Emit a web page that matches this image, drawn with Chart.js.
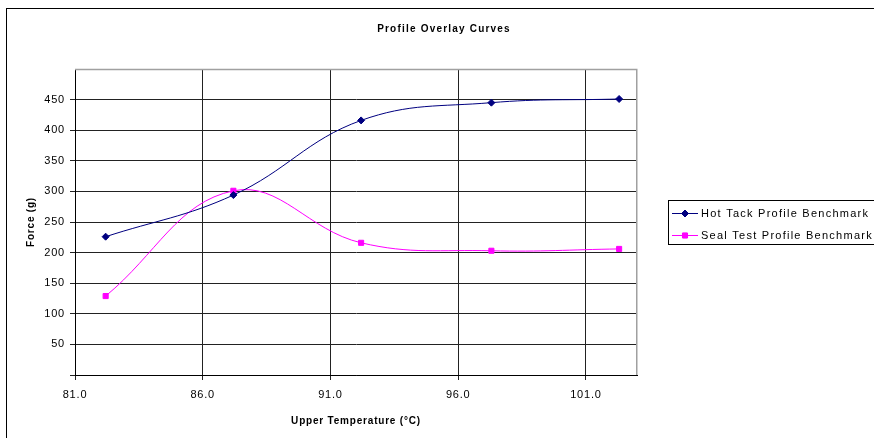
<!DOCTYPE html>
<html>
<head>
<meta charset="utf-8">
<title>Profile Overlay Curves</title>
<script src="https://cdn.jsdelivr.net/npm/chart.js@4/dist/chart.umd.min.js"></script>
<style>
    html, body { margin: 0; padding: 0; background: #fff; }
    #wrap { width: 874px; height: 438px; }
</style>
</head>
<body>
<div id="wrap"><canvas id="profileChart" width="874" height="438"></canvas></div>
<script>
// Data
const temps = [82.2, 87.2, 92.2, 97.3, 102.3];
const hotTack = [226, 294, 416, 445, 451];
const sealTest = [129, 301, 216, 203, 206];
const xTicks = [81, 86, 91, 96, 101];
const yTicks = [0, 50, 100, 150, 200, 250, 300, 350, 400, 450, 500];
const seriesNames = ['Hot Tack Profile Benchmark', 'Seal Test Profile Benchmark'];
const seriesColors = ['#000080', '#ff00ff'];
const seriesMarkers = ['rectRot', 'rect'];
const markerSizes = [3.5, 3.6];

const FONT = '"Liberation Sans", Arial, sans-serif';

function toPoints(values) {
    return temps.map((t, i) => ({ x: t, y: values[i] }));
}

// Outer frame, plot border, title and legend box
const framePlugin = {
    id: 'frame',
    beforeDraw(chart) {
        const ctx = chart.ctx;
        ctx.save();
        ctx.fillStyle = '#fff';
        ctx.fillRect(0, 0, chart.width, chart.height);
        ctx.strokeStyle = '#000';
        ctx.lineWidth = 1;
        ctx.strokeRect(6.5, 8.5, 900, 460);
        ctx.restore();
        ctx.letterSpacing = '0.8px';
    },
    afterDraw(chart) {
        const ctx = chart.ctx;
        const area = chart.chartArea;
        ctx.save();

        // plot area border (top / right)
        ctx.strokeStyle = '#a0a0a0';
        ctx.lineWidth = 1.5;
        ctx.beginPath();
        ctx.moveTo(area.left, area.top + 0.5);
        ctx.lineTo(area.right - 0.25, area.top + 0.5);
        ctx.lineTo(area.right - 0.25, area.bottom);
        ctx.stroke();

        // title
        ctx.letterSpacing = '1.2px';
        ctx.fillStyle = '#000';
        ctx.font = 'bold 10px ' + FONT;
        ctx.textAlign = 'center';
        ctx.textBaseline = 'middle';
        ctx.fillText('Profile Overlay Curves', 444, 29);

        // legend
        ctx.strokeStyle = '#000';
        ctx.lineWidth = 1;
        ctx.strokeRect(668.5, 200.5, 260, 44);
        ctx.letterSpacing = '1.25px';
        ctx.font = '11px ' + FONT;
        ctx.textAlign = 'left';
        seriesNames.forEach((name, i) => {
            const y = 213 + i * 22;
            ctx.strokeStyle = seriesColors[i];
            ctx.beginPath();
            ctx.moveTo(672, y + 0.5);
            ctx.lineTo(698, y + 0.5);
            ctx.stroke();
            Chart.helpers.drawPoint(ctx, {
                pointStyle: seriesMarkers[i],
                radius: markerSizes[i],
                borderWidth: 1,
                rotation: 0
            }, 685, y + 0.5);
            ctx.fillStyle = seriesColors[i];
            ctx.fill();
            ctx.fillStyle = '#000';
            ctx.fillText(name, 701, y + 1);
        });
        ctx.restore();
    }
};

function makeDataset(i, values) {
    return {
        label: seriesNames[i],
        data: toPoints(values),
        borderColor: seriesColors[i],
        backgroundColor: seriesColors[i],
        borderWidth: 1,
        pointStyle: seriesMarkers[i],
        pointRadius: markerSizes[i],
        pointBorderWidth: 1,
        tension: 0.4,
        fill: false
    };
}

const ctx = document.getElementById('profileChart').getContext('2d');
const profileChart = new Chart(ctx, {
    type: 'line',
    data: {
        datasets: [
            makeDataset(0, hotTack),
            makeDataset(1, sealTest)
        ]
    },
    options: {
        responsive: false,
        animation: false,
        devicePixelRatio: 1,
        layout: {
            padding: { left: 0, right: 237, top: 69, bottom: 0 }
        },
        plugins: {
            legend: { display: false },
            title: { display: false },
            tooltip: { enabled: false }
        },
        scales: {
            x: {
                type: 'linear',
                min: 81,
                max: 103,
                afterBuildTicks: axis => { axis.ticks = xTicks.map(v => ({ value: v })); },
                afterFit: axis => { axis.height = 63; },
                ticks: {
                    color: '#000',
                    font: { family: FONT, size: 11 },
                    padding: 8,
                    maxRotation: 0,
                    callback: v => v.toFixed(1)
                },
                grid: { color: '#222', lineWidth: 1, tickLength: 5 },
                border: { color: '#000', width: 1 },
                title: {
                    display: true,
                    text: 'Upper Temperature (°C)',
                    color: '#000',
                    font: { family: FONT, size: 10, weight: 'bold' },
                    padding: { top: 0, bottom: 11 }
                }
            },
            y: {
                min: 0,
                max: 500,
                afterBuildTicks: axis => { axis.ticks = yTicks.map(v => ({ value: v })); },
                afterFit: axis => { axis.width = 75; },
                ticks: {
                    color: '#000',
                    font: { family: FONT, size: 11 },
                    padding: 5,
                    callback: v => (v === 0 || v === 500) ? '' : v
                },
                grid: {
                    color: c => c.tick && c.tick.value === 500 ? 'rgba(0,0,0,0)' : '#222',
                    lineWidth: 1,
                    tickLength: 5
                },
                border: { color: '#000', width: 1 },
                title: {
                    display: true,
                    text: 'Force (g)',
                    color: '#000',
                    font: { family: FONT, size: 10, weight: 'bold' },
                    padding: { top: 25, bottom: 0 }
                }
            }
        }
    },
    plugins: [framePlugin]
});
</script>
</body>
</html>
